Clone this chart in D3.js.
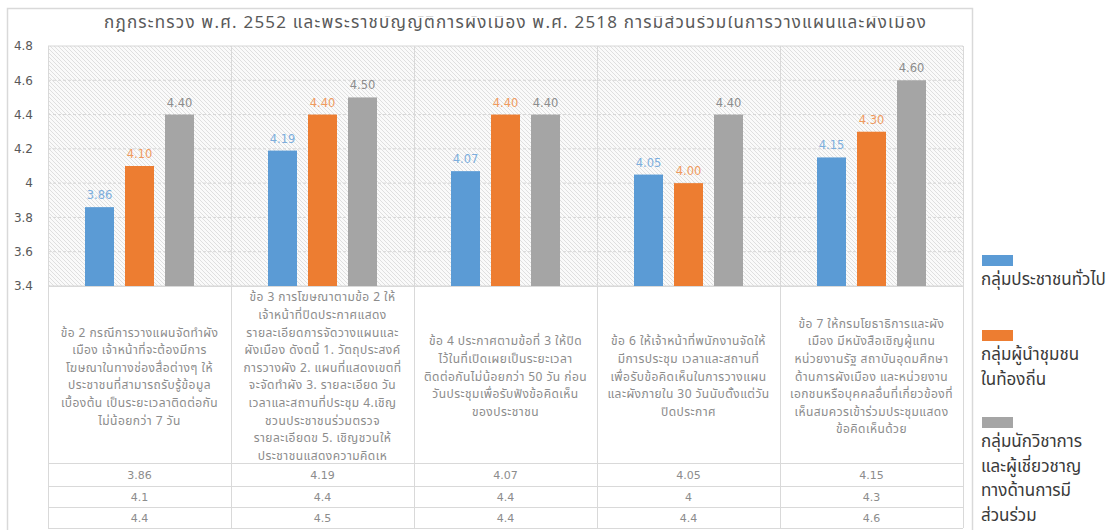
<!DOCTYPE html>
<html><head><meta charset="utf-8">
<script src="https://cdn.jsdelivr.net/npm/d3@7/dist/d3.min.js"></script>
<style>
html,body{margin:0;padding:0;background:#fff;}
svg{display:block;font-family:Tahoma,"Leelawadee UI","Noto Sans Thai","Noto Sans Thai UI","Noto Sans",sans-serif;}
</style></head>
<body>
<svg id="c" width="1113" height="530"></svg>
<script>
const titleText = "กฎกระทรวง พ.ศ. 2552  และพระราชบัญญัติการผังเมือง พ.ศ. 2518 การมีส่วนร่วมในการวางแผนและผังเมือง";
const categories = [
  ["ข้อ 2 กรณีการวางแผนจัดทำผัง","เมือง เจ้าหน้าที่จะต้องมีการ","โฆษณาในทางช่องสื่อต่างๆ ให้","ประชาชนที่สามารถรับรู้ข้อมูล","เบื้องต้น เป็นระยะเวลาติดต่อกัน","ไม่น้อยกว่า 7 วัน"],
  ["ข้อ 3 การโฆษณาตามข้อ 2 ให้","เจ้าหน้าที่ปิดประกาศแสดง","รายละเอียดการจัดวางแผนและ","ผังเมือง ดังตนี้ 1. วัตถุประสงค์","การวางผัง 2. แผนที่แสดงเขตที่","จะจัดทำผัง 3. รายละเอียด วัน","เวลาและสถานที่ประชุม 4.เชิญ","ชวนประชาชนร่วมตรวจ","รายละเอียดข 5. เชิญชวนให้","ประชาชนแสดงความคิดเห"],
  ["ข้อ 4 ประกาศตามข้อที่ 3 ให้ปิด","ไว้ในที่เปิดเผยเป็นระยะเวลา","ติดต่อกันไม่น้อยกว่า 50 วัน ก่อน","วันประชุมเพื่อรับฟังข้อคิดเห็น","ของประชาชน"],
  ["ข้อ 6 ให้เจ้าหน้าที่พนักงานจัดให้","มีการประชุม เวลาและสถานที่","เพื่อรับข้อคิดเห็นในการวางแผน","และผังภายใน 30 วันนับตั้งแต่วัน","ปิดประกาศ"],
  ["ข้อ 7 ให้กรมโยธาธิการและผัง","เมือง มีหนังสือเชิญผู้แทน","หน่วยงานรัฐ สถาบันอุดมศึกษา","ด้านการผังเมือง และหน่วยงาน","เอกชนหรือบุคคลอื่นที่เกี่ยวข้องที่","เห็นสมควรเข้าร่วมประชุมแสดง","ข้อคิดเห็นด้วย"]
];
const seriesNames = [
  ["กลุ่มประชาชนทั่วไป"],
  ["กลุ่มผู้นำชุมชน","ในท้องถิ่น"],
  ["กลุ่มนักวิชาการ","และผู้เชี่ยวชาญ","ทางด้านการมี","ส่วนร่วม"]
];
const publicVals  = [3.86, 4.19, 4.07, 4.05, 4.15];
const leaderVals  = [4.10, 4.40, 4.40, 4.00, 4.30];
const expertVals  = [4.40, 4.50, 4.40, 4.40, 4.60];
const yTicks = [3.4, 3.6, 3.8, 4.0, 4.2, 4.4, 4.6, 4.8];

const series = [publicVals, leaderVals, expertVals];
const colors = ["#5B9BD5", "#ED7D31", "#A5A5A5"];
const labelColors = ["#7DAEDD", "#F09A5E", "#8C8C8C"];

const svg = d3.select("#c");
const L = 48, R = 963, T = 46, B = 286;

// frame
svg.append("rect").attr("x", 7.5).attr("y", 8.5).attr("width", 965).attr("height", 540)
  .attr("fill", "#fff").attr("stroke", "#d9d9d9").attr("stroke-width", 1.5);

// hatch pattern
const defs = svg.append("defs");
const pat = defs.append("pattern").attr("id", "hatch").attr("patternUnits", "userSpaceOnUse")
  .attr("width", 4).attr("height", 4);
pat.append("rect").attr("width", 4).attr("height", 4).attr("fill", "#fafafa");
pat.append("path").attr("d", "M-1,-1 L5,5 M-1,3 L1,5 M3,-1 L5,1")
  .attr("stroke", "#dcdcdc").attr("stroke-width", 0.9);
defs.append("clipPath").attr("id", "tclip").append("rect")
  .attr("x", 0).attr("y", 16).attr("width", 1113).attr("height", 28);

const x0 = d3.scaleBand().domain(d3.range(categories.length)).range([L, R]).padding(0);
const x1 = d3.scaleBand().domain(d3.range(series.length)).range([0, x0.bandwidth()])
  .paddingInner(0.275).paddingOuter(0.925);
const y = d3.scaleLinear().domain([3.4, 4.8]).range([B, T]);

svg.append("rect").attr("x", L).attr("y", T).attr("width", R - L).attr("height", B - T)
  .attr("fill", "url(#hatch)");

// gridlines
svg.append("g").selectAll("line").data(yTicks).join("line")
  .attr("x1", L).attr("x2", R).attr("y1", d => y(d)).attr("y2", d => y(d))
  .attr("stroke", "#d6d6d6").attr("stroke-width", 1).attr("stroke-dasharray", d => d === 4.8 || d === 3.4 ? null : "3,2");

// title
svg.append("text").attr("x", 515).attr("y", 28).attr("text-anchor", "middle")
  .attr("font-size", 17).attr("fill", "#595959").attr("clip-path", "url(#tclip)")
  .attr("textLength", 822).attr("lengthAdjust", "spacing").text(titleText);

// y axis
const yAxis = svg.append("g").attr("transform", `translate(${L},0)`)
  .call(d3.axisLeft(y).tickValues(yTicks).tickSize(0).tickPadding(15).tickFormat(d => String(+d.toFixed(1))));
yAxis.select(".domain").remove();
yAxis.selectAll("text").attr("font-size", 12).attr("fill", "#595959")
  .attr("font-family", "'DejaVu Sans', Verdana, sans-serif");

// bars
const groups = svg.append("g").selectAll("g").data(categories).join("g")
  .attr("transform", (d, i) => `translate(${x0(i)},0)`);
groups.selectAll("rect").data((d, i) => series.map((s, j) => ({ j, v: s[i] }))).join("rect")
  .attr("x", d => x1(d.j)).attr("width", x1.bandwidth())
  .attr("y", d => y(d.v)).attr("height", d => y(3.4) - y(d.v))
  .attr("fill", d => colors[d.j]);
groups.selectAll("text.dl").data((d, i) => series.map((s, j) => ({ j, v: s[i] }))).join("text")
  .attr("class", "dl")
  .attr("x", d => x1(d.j) + x1.bandwidth() / 2).attr("y", d => y(d.v) - 8)
  .attr("text-anchor", "middle").attr("font-size", 11.5)
  .attr("font-family", "'DejaVu Sans', Verdana, sans-serif")
  .attr("fill", d => labelColors[d.j]).text(d => d.v.toFixed(2));

// table
const rowLines = [B, 463, 486, 507, 528];
svg.append("g").selectAll("line").data(rowLines).join("line")
  .attr("x1", L).attr("x2", R).attr("y1", d => d + 0.5).attr("y2", d => d + 0.5)
  .attr("stroke", "#d9d9d9");
svg.append("g").selectAll("line").data(d3.range(categories.length + 1)).join("line")
  .attr("x1", i => (i < categories.length ? x0(i) : R) + 0.5)
  .attr("x2", i => (i < categories.length ? x0(i) : R) + 0.5)
  .attr("y1", T).attr("y2", 528).attr("stroke", "#d9d9d9");

// category labels
const lh = 17.6, cy = 376;
groups.each(function (lines) {
  const g = d3.select(this);
  const n = lines.length;
  g.selectAll("text.cat").data(lines).join("text").attr("class", "cat")
    .attr("x", x0.bandwidth() / 2)
    .attr("y", (d, k) => cy + (k - (n - 1) / 2) * lh + 4.5)
    .attr("text-anchor", "middle").attr("font-size", 12).attr("letter-spacing", 0.45)
    .attr("fill", "#8c8c8c").text(d => d);
});

// data table rows
const rowCenters = [475, 497, 518];
series.forEach((s, j) => {
  svg.append("g").selectAll("text").data(s).join("text")
    .attr("x", (d, i) => x0(i) + x0.bandwidth() / 2).attr("y", rowCenters[j] + 4)
    .attr("text-anchor", "middle").attr("font-size", 11)
    .attr("font-family", "'DejaVu Sans', Verdana, sans-serif")
    .attr("fill", "#8c8c8c").text(d => String(d));
});

// legend
const legTops = [255, 330, 417];
seriesNames.forEach((lines, j) => {
  const g = svg.append("g");
  g.append("rect").attr("x", 982).attr("y", legTops[j]).attr("width", 31).attr("height", 11).attr("fill", colors[j]);
  g.selectAll("text").data(lines).join("text")
    .attr("x", 981).attr("y", (d, k) => legTops[j] + 30 + k * 24.6)
    .attr("font-size", 17).attr("fill", "#3a3a3a").text(d => d);
});
</script>
</body></html>
